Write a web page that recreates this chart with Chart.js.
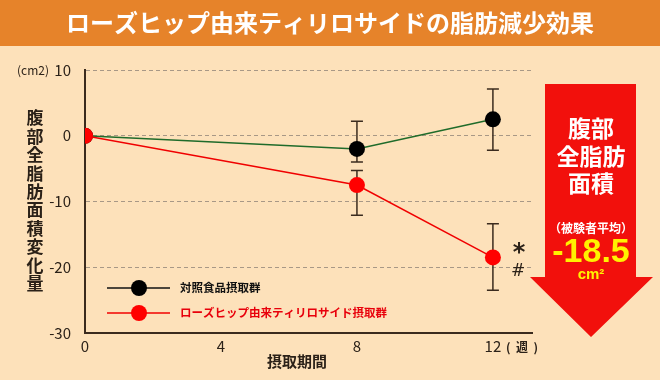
<!DOCTYPE html>
<html>
<head>
<meta charset="utf-8">
<script src="https://cdn.jsdelivr.net/npm/chart.js@4.4.1/dist/chart.umd.min.js"></script>
<style>
  body { margin: 0; background: #fde1ba; }
  #wrap { width: 660px; height: 380px; }
</style>
</head>
<body>
<div id="wrap"><canvas id="myChart" width="660" height="380"></canvas></div>
<script>
// 摂取期間（週）
const weeks = [0, 8, 12]
const xTicks = [0, 4, 8, 12]
const yTicks = [10, 0, -10, -20, -30]

// 対照食品摂取群
const controlMean = [0, -2.0, 2.5]
const controlUpper = [0, 2.2, 7.1]
const controlLower = [0, -4.0, -2.2]

// ローズヒップ由来ティリロサイド摂取群
const tiliMean = [0, -7.5, -18.5]
const tiliUpper = [0, -5.3, -13.4]
const tiliLower = [0, -12.1, -23.5]

const labelControl = "対照食品摂取群"
const labelTili = "ローズヒップ由来ティリロサイド摂取群"

const jp = '"Noto Sans CJK JP", "Noto Sans", sans-serif'
const ink = "#2b2118"

function pts(means) {
    return weeks.map((w, i) => ({ x: w, y: means[i] }))
}

// 背景・タイトル・矢印など
const decor = {
    id: "decor",
    beforeDraw(chart) {
        const ctx = chart.ctx
        ctx.save()
        ctx.fillStyle = "#fde1ba"
        ctx.fillRect(0, 0, chart.width, chart.height)

        // title bar
        ctx.fillStyle = "#e6832a"
        ctx.fillRect(0, 0, chart.width, 46)
        ctx.fillStyle = "#ffffff"
        ctx.font = "bold 24px " + jp
        ctx.textAlign = "center"
        ctx.textBaseline = "middle"
        ctx.fillText("ローズヒップ由来ティリロサイドの脂肪減少効果", 330, 23)

        // arrow
        ctx.fillStyle = "#f2100c"
        ctx.beginPath()
        ctx.moveTo(545, 84)
        ctx.lineTo(636, 84)
        ctx.lineTo(636, 277)
        ctx.lineTo(653, 277)
        ctx.lineTo(591, 337)
        ctx.lineTo(530, 277)
        ctx.lineTo(545, 277)
        ctx.closePath()
        ctx.fill()

        ctx.fillStyle = "#ffffff"
        ctx.font = "bold 23px " + jp
        ctx.fillText("腹部", 591, 128)
        ctx.fillText("全脂肪", 591, 156)
        ctx.fillText("面積", 591, 183)
        ctx.font = "bold 12px " + jp
        ctx.fillText("（被験者平均）", 591, 228)
        ctx.fillStyle = "#fff200"
        ctx.font = 'bold 34px "Liberation Sans", Arial, sans-serif'
        ctx.fillText("-18.5", 591, 253)
        ctx.font = 'bold 15px "Liberation Sans", Arial, sans-serif'
        ctx.fillText("cm²", 591, 275)
        ctx.restore()
    },
    beforeDatasetsDraw(chart) {
        // error bars
        const ctx = chart.ctx
        const xs = chart.scales.x
        const ys = chart.scales.y
        ctx.save()
        ctx.strokeStyle = "#3b2b1e"
        ctx.lineWidth = 1.5
        const groups = [[controlUpper, controlLower], [tiliUpper, tiliLower]]
        groups.forEach(g => {
            weeks.forEach((w, i) => {
                if (g[0][i] === g[1][i]) return
                const x = xs.getPixelForValue(w)
                const y1 = ys.getPixelForValue(g[0][i])
                const y2 = ys.getPixelForValue(g[1][i])
                ctx.beginPath()
                ctx.moveTo(x, y1); ctx.lineTo(x, y2)
                ctx.moveTo(x - 6, y1); ctx.lineTo(x + 6, y1)
                ctx.moveTo(x - 6, y2); ctx.lineTo(x + 6, y2)
                ctx.stroke()
            })
        })
        ctx.restore()
    },
    afterDraw(chart) {
        const ctx = chart.ctx
        ctx.save()
        ctx.textBaseline = "middle"

        // y label (vertical)
        ctx.fillStyle = ink
        ctx.font = "bold 17px " + jp
        ctx.textAlign = "center"
        const yl = "腹部全脂肪面積変化量"
        for (let i = 0; i < yl.length; i++) {
            ctx.fillText(yl[i], 35, 118 + i * 18.4)
        }
        ctx.font = "12px " + jp
        ctx.fillText("(cm2)", 33, 70)

        // x label
        ctx.font = "bold 15px " + jp
        ctx.fillText("摂取期間", 297, 361)
        ctx.font = "bold 12px " + jp
        ctx.textAlign = "left"
        ctx.fillText("(  週  )", 506, 347)

        // significance marks
        ctx.textAlign = "center"
        ctx.font = 'bold 24px "DejaVu Sans", sans-serif'
        ctx.fillText("*", 519, 254)
        ctx.font = '17px "DejaVu Sans", sans-serif'
        ctx.fillText("#", 518, 272)

        // legend
        const items = [
            { y: 288, line: "#111111", dot: "#000000", text: "#111111", label: labelControl },
            { y: 313, line: "#f00000", dot: "#ff0000", text: "#e8000b", label: labelTili }
        ]
        items.forEach(it => {
            ctx.strokeStyle = it.line
            ctx.lineWidth = 1.5
            ctx.beginPath()
            ctx.moveTo(107, it.y); ctx.lineTo(170, it.y)
            ctx.stroke()
            ctx.fillStyle = it.dot
            ctx.beginPath()
            ctx.arc(139, it.y, 8, 0, Math.PI * 2)
            ctx.fill()
            ctx.fillStyle = it.text
            ctx.font = "bold 11.5px " + jp
            ctx.textAlign = "left"
            ctx.fillText(it.label, 180, it.y)
        })
        ctx.restore()
    }
}

const graf = document.getElementById("myChart").getContext("2d")

const myChart = new Chart(graf, {
    type: "line",
    data: {
        datasets: [{
            label: labelTili,
            data: pts(tiliMean),
            borderColor: "#f00000",
            borderWidth: 1.5,
            pointRadius: 8,
            pointBackgroundColor: "#ff0000",
            pointBorderColor: "#ff0000",
            pointBorderWidth: 0,
            order: 0
        }, {
            label: labelControl,
            data: pts(controlMean),
            borderColor: "#1f6b2a",
            borderWidth: 1.5,
            pointRadius: 8,
            pointBackgroundColor: "#000000",
            pointBorderColor: "#000000",
            pointBorderWidth: 0,
            order: 1
        }]
    },
    options: {
        responsive: false,
        animation: false,
        layout: { padding: { top: 70, right: 128, left: 0, bottom: 0 } },
        plugins: { legend: { display: false }, tooltip: { enabled: false } },
        scales: {
            x: {
                type: "linear",
                min: 0,
                max: 13.15,
                afterBuildTicks: s => { s.ticks = xTicks.map(v => ({ value: v })) },
                afterFit: s => { s.height = 47 },
                grid: { display: false },
                border: { display: true, color: "#3b2b1e", width: 2 },
                ticks: { color: ink, font: { size: 15, family: jp }, padding: -4 }
            },
            y: {
                min: -30,
                max: 10,
                afterBuildTicks: s => { s.ticks = yTicks.map(v => ({ value: v })) },
                afterFit: s => { s.width = 85 },
                grid: {
                    drawTicks: false,
                    lineWidth: 1,
                    color: c => (c.tick && c.tick.value === -30) ? "rgba(0,0,0,0)" : "#a89886"
                },
                border: { display: true, color: "#3b2b1e", width: 2, dash: [4, 3] },
                ticks: { color: ink, font: { size: 15, family: jp }, padding: 14 }
            }
        }
    },
    plugins: [decor]
})
</script>
</body>
</html>
